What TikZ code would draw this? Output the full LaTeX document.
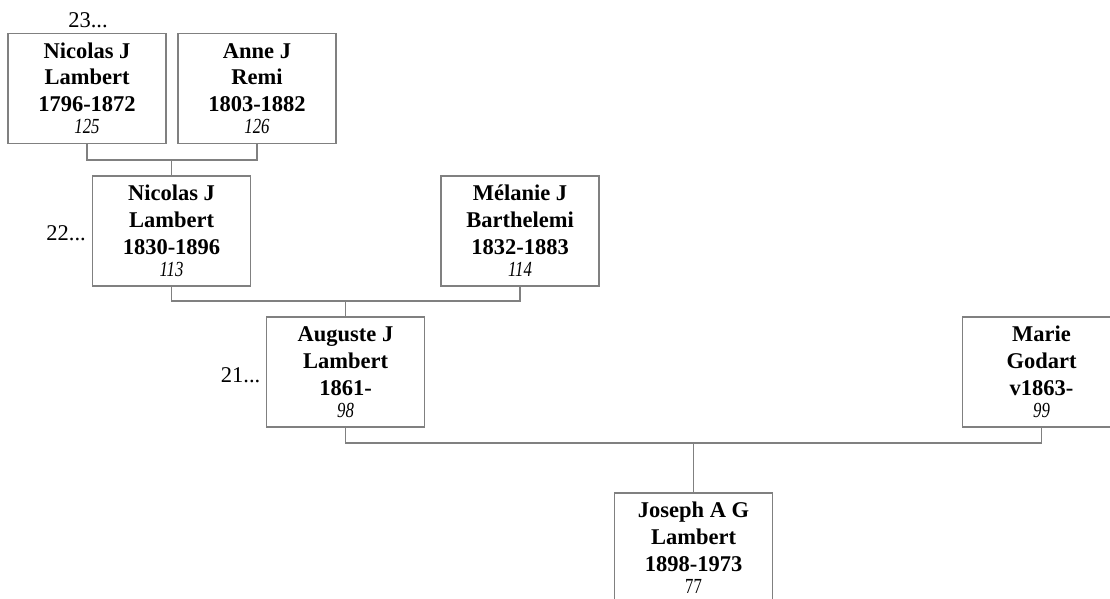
\documentclass[tikz,border=0pt]{standalone}
\usepackage{graphicx}
\usepackage{fontspec}
\setmainfont{Liberation Serif}
\definecolor{linegray}{RGB}{128,128,128}
\tikzset{
  card/.style={draw=linegray, line width=1.2pt, fill=white, minimum width=158pt, minimum height=110pt, inner sep=0pt, outer sep=0pt},
  nameline/.style={font=\fontsize{22.5}{27}\selectfont\bfseries, inner sep=0pt},
  numline/.style={font=\fontsize{21.5}{24}\selectfont\itshape, inner sep=0pt},
  numlineup/.style={font=\fontsize{21.5}{24}\selectfont, inner sep=0pt},
  genlabel/.style={font=\fontsize{22.5}{27}\selectfont, inner sep=0pt},
  link/.style={draw=linegray, line width=1.2pt},
}
\newcommand{\personcard}[8]{%
  \node[card, anchor=north west] (#1) at (#2,#3) {};
  \node[nameline, anchor=base] (#1-a) at ([yshift=-24.7pt]#1.north) {#4};
  \node[nameline, anchor=base] (#1-b) at ([yshift=-51.4pt]#1.north) {#5};
  \node[nameline, anchor=base] (#1-c) at ([yshift=-78.3pt]#1.north) {#6};
  \node[#8, anchor=base] (#1-d) at ([yshift=-100.5pt]#1.north) {\scalebox{0.78}[1]{#7}};
}
\begin{document}
\begin{tikzpicture}[x=1pt, y=-1pt]
  \useasboundingbox (0,0) rectangle (1110,599);
  \clip (0,0) rectangle (1110,599);
  \fill[white] (0,0) rectangle (1110,599);

  \personcard{n125}{8}{33.5}{Nicolas J}{Lambert}{1796-1872}{125}{numline}
  \personcard{n126}{178}{33.5}{Anne J}{Remi}{1803-1882}{126}{numline}
  \personcard{n113}{92.5}{176}{Nicolas J}{Lambert}{1830-1896}{113}{numline}
  \personcard{n114}{441}{176}{Mélanie J}{Barthelemi}{1832-1883}{114}{numline}
  \personcard{n98}{266.5}{317}{Auguste J}{Lambert}{1861-}{98}{numline}
  \personcard{n99}{962.5}{317}{Marie}{Godart}{v1863-}{99}{numline}
  \personcard{n77}{614.5}{493}{Joseph A G}{Lambert}{1898-1973}{77}{numlineup}

  \node[genlabel, anchor=base] (g23) at (88,28) {23...};
  \node[genlabel, anchor=base east] (g22) at (86,240) {22...};
  \node[genlabel, anchor=base east] (g21) at (260.5,382) {21...};

  \coordinate (j1) at (0,160);
  \coordinate (j2) at (0,301);
  \coordinate (j3) at (0,443);

  \draw[link] (n125.south) -- (n125.south |- j1) -- (n126.south |- j1) -- (n126.south);
  \draw[link] (n113.north |- j1) -- (n113.north);

  \draw[link] (n113.south) -- (n113.south |- j2) -- (n114.south |- j2) -- (n114.south);
  \draw[link] (n98.north |- j2) -- (n98.north);

  \draw[link] (n98.south) -- (n98.south |- j3) -- (n99.south |- j3) -- (n99.south);
  \draw[link] (n77.north |- j3) -- (n77.north);
\end{tikzpicture}
\end{document}
